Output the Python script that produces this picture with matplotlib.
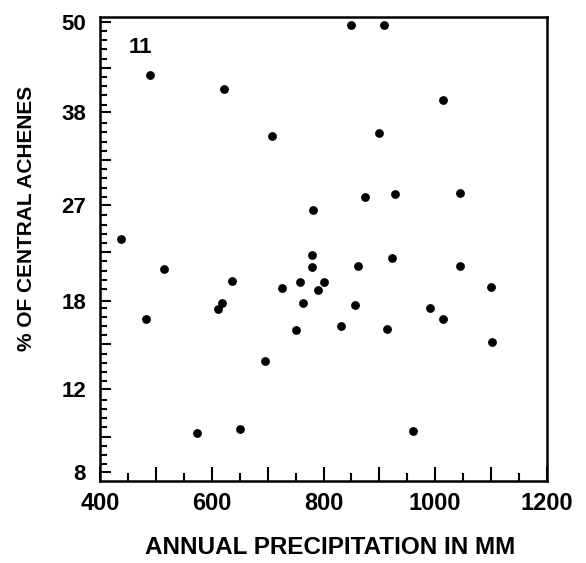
import numpy as np
import matplotlib
matplotlib.use("Agg")
import matplotlib.pyplot as plt
from matplotlib.ticker import FixedLocator, FixedFormatter, NullFormatter

# annual precipitation (mm) and % of central achenes
precip = [850, 909, 490, 622, 1013, 707, 899, 782, 875, 928, 1044, 437,
          515, 482, 573, 651, 611, 618, 636, 695, 725, 750, 758, 764,
          780, 780, 790, 801, 831, 856, 861, 913, 923, 961, 990, 1013,
          1044, 1100, 1102]
achenes = [49.5, 49.5, 42.8, 41.0, 39.5, 35.0, 35.3, 26.5, 27.9, 28.2, 28.3, 23.5,
           20.7, 16.6, 9.7, 9.9, 17.4, 17.9, 19.7, 13.7, 19.1, 15.8, 19.6, 17.9,
           22.0, 20.9, 18.9, 19.6, 16.1, 17.7, 21.0, 15.9, 21.7, 9.8, 17.5, 16.6,
           21.0, 19.2, 15.0]

ytick_vals = [8, 12, 18, 27, 38, 50]
xtick_vals = [400, 600, 800, 1000, 1200]
panel_label = "11"


# y axis is logit-spaced (percentages)
def fwd(p):
    p = np.asarray(p, dtype=float)
    with np.errstate(all="ignore"):
        return np.log(p / (100.0 - p))


def inv(z):
    z = np.asarray(z, dtype=float)
    return 100.0 / (1.0 + np.exp(-z))


plt.rcParams['font.family'] = ['Liberation Sans', 'DejaVu Sans']
plt.rcParams['font.weight'] = 'bold'

fig = plt.figure(figsize=(5.86, 5.63), dpi=100)
ax = fig.add_axes([100 / 586, 1 - 481 / 563, 447 / 586, 464 / 563])

ax.scatter(precip, achenes, s=40, color="black", zorder=3, linewidths=0)

ax.set_xlim(400, 1200)
ax.set_yscale('function', functions=(fwd, inv))
ax.set_ylim(inv(-2.49), inv(0.025))

# x ticks: long every 100, labels every 200, short every 50
xmaj = list(range(400, 1201, 100))
ax.xaxis.set_major_locator(FixedLocator(xmaj))
ax.xaxis.set_major_formatter(FixedFormatter([str(v) if v in xtick_vals else "" for v in xmaj]))
ax.xaxis.set_minor_locator(FixedLocator(list(range(450, 1200, 100))))
ax.xaxis.set_minor_formatter(NullFormatter())

# y ticks: labelled values + midpoints long, small ticks every 0.05 logit
mids = [float(inv(z)) for z in (-0.25, -0.75, -1.25, -1.75, -2.25)]
ymaj = ytick_vals + mids
ax.yaxis.set_major_locator(FixedLocator(ymaj))
ax.yaxis.set_major_formatter(FixedFormatter([str(v) for v in ytick_vals] + [""] * len(mids)))
zmaj = [float(fwd(v)) for v in ymaj]
ymin = [float(inv(z)) for z in np.arange(0, -2.5, -0.05)
        if min(abs(z - m) for m in zmaj) > 0.02]
ax.yaxis.set_minor_locator(FixedLocator(ymin))
ax.yaxis.set_minor_formatter(NullFormatter())

ax.tick_params(axis='x', which='major', direction='in', length=10, width=1.5,
               labelsize=17, pad=8)
ax.tick_params(axis='x', which='minor', direction='in', length=6, width=1.5)
ax.tick_params(axis='y', which='major', direction='in', length=8, width=1.5,
               labelsize=16, pad=10)
ax.tick_params(axis='y', which='minor', direction='in', length=5, width=1.5)
ax.tick_params(top=False, right=False, which='both')

for sp in ax.spines.values():
    sp.set_linewidth(1.8)

ax.text(0.09, 0.935, panel_label, transform=ax.transAxes, fontsize=16,
        ha='center', va='center')

fig.text(330 / 586, 1 - 547 / 563, "ANNUAL PRECIPITATION IN MM", fontsize=17.5,
         ha='center', va='center')
fig.text(27 / 586, 1 - 218 / 563, "% OF CENTRAL ACHENES", fontsize=15,
         ha='center', va='center', rotation=90)

fig.savefig("out.png", dpi=100)
